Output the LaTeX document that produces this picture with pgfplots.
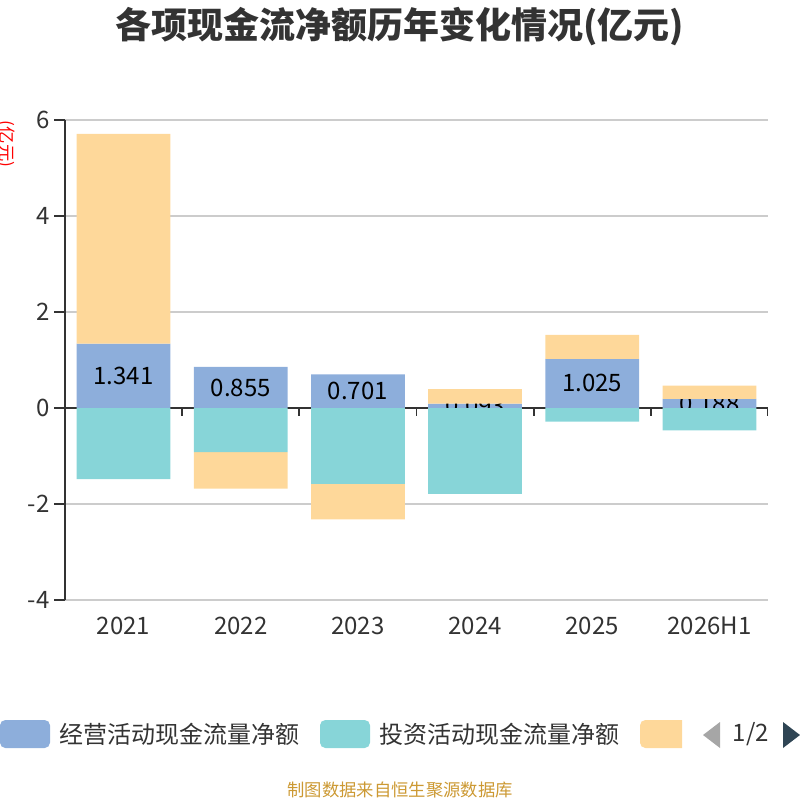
\documentclass[border=0pt]{standalone}
\usepackage{pgfplots}
\pgfplotsset{compat=1.18}
\usepackage{pgfplotstable}
\usepackage{fontspec}
\setmainfont{Noto Sans CJK SC}
\definecolor{cOp}{RGB}{141,174,219}
\definecolor{cInv}{RGB}{135,213,216}
\definecolor{cFin}{RGB}{254,216,154}
\definecolor{cTxt}{RGB}{51,51,51}
\definecolor{cGrid}{RGB}{204,204,204}
\definecolor{cFoot}{RGB}{204,153,51}
\definecolor{cArrow}{RGB}{47,69,84}

\pgfplotstableread{
x op inv finp finn lab
0 1.341 -1.48 4.37 0 1.341
1 0.855 -0.92 0 -0.76 0.855
2 0.701 -1.58 0 -0.74 0.701
3 0.093 -1.79 0.30 0 0.093
4 1.025 -0.285 0.50 0 1.025
5 0.188 -0.465 0.28 0 0.188
}\data

\pgfplotsset{
  myax/.style={at={(48.75pt,-450pt)}, anchor=south west, scale only axis,
    width=527.25pt, height=360pt, xmin=-0.5, xmax=5.5, ymin=-4, ymax=6},
}

\begin{document}
\begin{tikzpicture}
\useasboundingbox (0,0) rectangle (600pt,-600pt);

% main axis
\begin{axis}[myax,
  axis x line*=bottom, axis y line*=left,
  x axis line style={draw=none},
  y axis line style={cTxt, line width=1.6pt},
  xtick={0,...,5}, xticklabels={2021,2022,2023,2024,2025,2026H1},
  xtick style={draw=none},
  xticklabel style={font=\fontsize{18}{20}\selectfont, text=cTxt, yshift=-1.5pt},
  ytick={-4,-2,0,2,4,6}, yticklabels={-4,-2,0,2,4,6},
  yticklabel style={font=\fontsize{18}{20}\selectfont, text=cTxt},
  ytick style={cTxt, line width=1.4pt},
  tick align=outside, major tick length=8pt,
  ymajorgrids, grid style={cGrid, line width=1.3pt},
]
\draw[cTxt, line width=1.6pt] (axis cs:-0.5,0) -- (axis cs:5.5,0);
\pgfplotsinvokeforeach{0.5,1.5,2.5,3.5,4.5,5.5}{
  \draw[cTxt, line width=1.4pt] (axis cs:#1,0) -- ([yshift=-6pt]axis cs:#1,0);
}
\addplot[ybar, bar width=0.8, bar shift=0pt, fill=cOp, draw=none]
  table[x=x, y=op] {\data};
\addplot[draw=none, nodes near coords, point meta=explicit symbolic,
  every node near coord/.append style={anchor=center, text=black,
    font=\fontsize{18}{20}\selectfont}]
  table[x=x, y expr=\thisrow{op}/2, meta=lab] {\data};
\end{axis}

% positive financing, stacked on operating
\begin{axis}[myax, hide axis, ybar stacked, bar width=0.8]
\addplot[fill=none, draw=none] table[x=x, y=op] {\data};
\addplot[fill=cFin, draw=none] table[x=x, y=finp] {\data};
\end{axis}

% investing and negative financing
\begin{axis}[myax, hide axis, ybar stacked, bar width=0.8]
\addplot[fill=cInv, draw=none] table[x=x, y=inv] {\data};
\addplot[fill=cFin, draw=none] table[x=x, y=finn] {\data};
\end{axis}

\begin{scope}[x=0.75pt, y=-0.75pt]
  \node[font=\fontsize{27}{30}\selectfont\bfseries, text=cTxt] at (400,27)
    {各项现金流净额历年变化情况(亿元)};
  \node[font=\fontsize{13}{15}\selectfont, text=red, rotate=-90] at (6,144) {(亿元)};
  % legend
  \fill[cOp, rounded corners=4pt] (0,720) rectangle (50,748);
  \node[anchor=west, font=\fontsize{18}{20}\selectfont, text=cTxt, inner sep=0pt] at (59,734)
    {经营活动现金流量净额};
  \fill[cInv, rounded corners=4pt] (320,720) rectangle (370,748);
  \node[anchor=west, font=\fontsize{18}{20}\selectfont, text=cTxt, inner sep=0pt] at (379,734)
    {投资活动现金流量净额};
  \begin{scope}
    \clip (630,710) rectangle (682,760);
    \fill[cFin, rounded corners=4pt] (640,720) rectangle (690,748);
  \end{scope}
  \fill[gray!70] (703,735) -- (720,722) -- (720,748) -- cycle;
  \node[font=\fontsize{18}{20}\selectfont, text=cTxt] at (751,734) {1/2};
  \fill[cArrow] (783,722) -- (800,735) -- (783,748) -- cycle;
  \node[font=\fontsize{13}{15}\selectfont, text=cFoot] at (400,790)
    {制图数据来自恒生聚源数据库};
\end{scope}
\end{tikzpicture}
\end{document}
